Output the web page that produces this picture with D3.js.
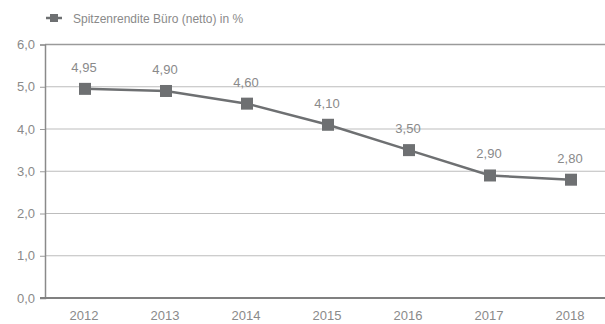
<!DOCTYPE html>
<html><head><meta charset="utf-8">
<script src="https://cdn.jsdelivr.net/npm/d3@7"></script>
<style>body{margin:0;background:#fff}svg{display:block}text{font-family:"Liberation Sans",Arial,sans-serif}</style>
</head><body><svg id="c" width="605" height="324"></svg>
<script>
const years = ["2012","2013","2014","2015","2016","2017","2018"];
const values = [4.95, 4.90, 4.60, 4.10, 3.50, 2.90, 2.80];
const valueLabels = ["4,95","4,90","4,60","4,10","3,50","2,90","2,80"];
const yTicks = [0,1,2,3,4,5,6];
const seriesName = "Spitzenrendite Büro (netto) in %";

const svg = d3.select("#c");
const x = d3.scalePoint().domain(years).range([85, 571]);
const y = d3.scaleLinear().domain([0,6]).range([298, 44.5]);
const textCol = "#8a8a8a", lineCol = "#6e7072";

// gridlines
svg.append("g").selectAll("line").data(yTicks.filter(d=>d>0)).join("line")
  .attr("x1",45).attr("x2",605).attr("y1",d=>y(d)).attr("y2",d=>y(d))
  .attr("stroke", d=> d===6 ? "#9a9a9a" : "#bdbdbd").attr("stroke-width", d=> d===6?1.5:1.2);

// y axis
const ya = svg.append("g").attr("transform","translate(45,0)")
  .call(d3.axisLeft(y).tickValues(yTicks).tickSize(5).tickPadding(5).tickFormat(d=>d3.format(".1f")(d).replace(".",",")));
ya.select(".domain").attr("stroke","#8a8a8a").attr("stroke-width",1.5);
ya.selectAll(".tick line").attr("stroke","#9a9a9a");
ya.selectAll("text").attr("fill",textCol).attr("font-size",13);

// bottom axis line
svg.append("line").attr("x1",40).attr("x2",605).attr("y1",y(0)).attr("y2",y(0))
  .attr("stroke","#808080").attr("stroke-width",2);

// x labels
svg.append("g").selectAll("text").data(years).join("text")
  .attr("x",d=>x(d)-1).attr("y",320).attr("text-anchor","middle")
  .attr("fill",textCol).attr("font-size",13).text(d=>d);

// line
const pts = years.map((d,i)=>[x(d), y(values[i])]);
svg.append("path").attr("d", d3.line()(pts)).attr("fill","none")
  .attr("stroke",lineCol).attr("stroke-width",2.5);
svg.append("g").selectAll("rect").data(pts).join("rect")
  .attr("x",d=>d[0]-6).attr("y",d=>d[1]-6).attr("width",12).attr("height",12).attr("fill",lineCol);

// value labels
svg.append("g").selectAll("text").data(years).join("text")
  .attr("x",d=>x(d)-1).attr("y",(d,i)=>y(values[i])-17).attr("text-anchor","middle")
  .attr("fill",textCol).attr("font-size",13).text((d,i)=>valueLabels[i]);

// legend
const lg = svg.append("g");
lg.append("line").attr("x1",46).attr("x2",62).attr("y1",18).attr("y2",18).attr("stroke",lineCol).attr("stroke-width",2.5);
lg.append("rect").attr("x",50).attr("y",14).attr("width",8).attr("height",8).attr("fill",lineCol);
lg.append("text").attr("x",73).attr("y",22.5).attr("fill",textCol).attr("font-size",12).text(seriesName);
</script></body></html>
